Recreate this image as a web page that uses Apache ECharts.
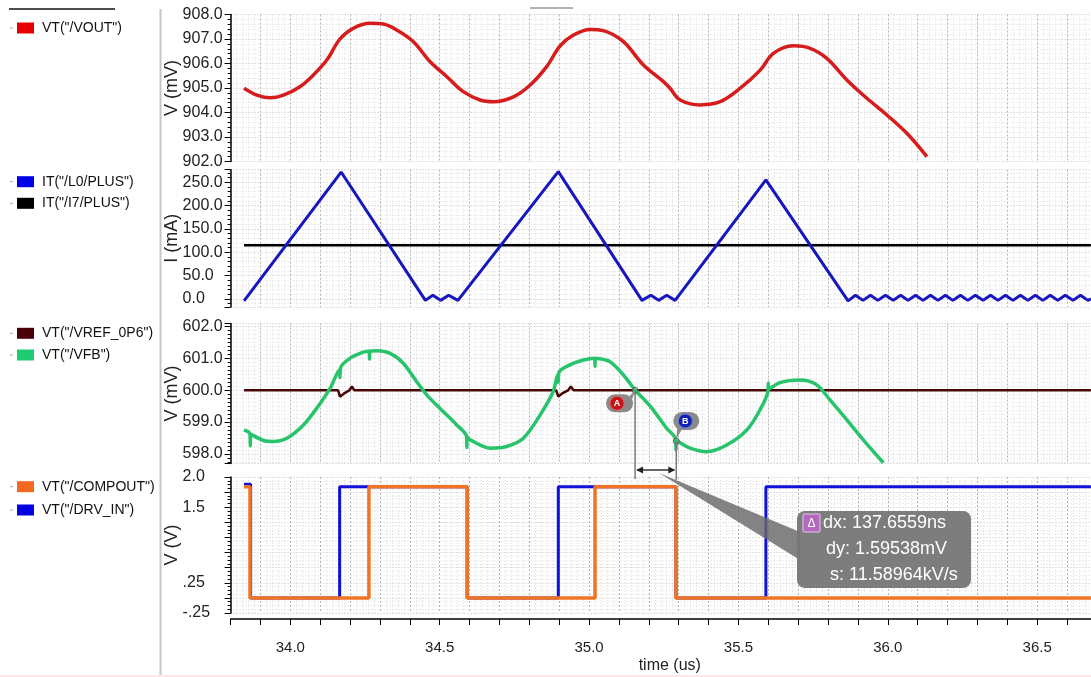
<!DOCTYPE html>
<html><head><meta charset="utf-8">
<script src="https://cdn.jsdelivr.net/npm/echarts@6/dist/echarts.min.js"></script>
<style>html,body{margin:0;padding:0;background:#fff}#c{width:1091px;height:677px}</style>
</head><body><div id="c"></div>
<script>
// ---------------- data (time in us) ----------------
const vout = [[33.845,904.99],[33.888,904.71],[33.932,904.60],[33.977,904.71],[34.032,905.05],[34.077,905.53],[34.122,906.14],[34.166,907.00],[34.211,907.44],[34.267,907.64],[34.311,907.61],[34.356,907.37],[34.412,906.89],[34.468,906.07],[34.524,905.46],[34.579,904.85],[34.635,904.51],[34.680,904.44],[34.747,904.64],[34.803,905.12],[34.858,905.87],[34.903,906.72],[34.948,907.16],[35.003,907.39],[35.048,907.34],[35.115,906.89],[35.182,905.94],[35.249,905.26],[35.271,904.99],[35.305,904.51],[35.372,904.31],[35.439,904.44],[35.506,904.99],[35.573,905.73],[35.617,906.41],[35.684,906.72],[35.740,906.62],[35.796,906.21],[35.863,905.33],[35.930,904.58],[35.997,903.90],[36.064,903.15],[36.131,902.20]];
const iL0 = [[33.845,-4],[34.170,272],[34.452,-3],[34.477,8],[34.503,-3],[34.530,8],[34.561,-3],[34.897,273],[35.177,-3],[35.207,8],[35.233,-3],[35.260,8],[35.288,-3],[35.592,255],[35.867,-4],[35.892,8],[35.917,-3],[35.942,8],[35.967,-3],[35.992,8],[36.018,-3],[36.043,8],[36.068,-3],[36.093,8],[36.118,-3],[36.143,8],[36.168,-3],[36.193,8],[36.218,-3],[36.243,8],[36.268,-3],[36.293,8],[36.319,-3],[36.344,8],[36.369,-3],[36.394,8],[36.419,-3],[36.444,8],[36.469,-3],[36.494,8],[36.519,-3],[36.544,8],[36.569,-3],[36.594,8],[36.620,-3],[36.645,8],[36.670,-3],[36.680,0]];
const iI7 = [[33.845,115],[36.680,115]];
const vref = [[33.845,600.0],[34.160,600.0],[34.166,599.80],[34.183,599.92],[34.198,600.0],[34.206,600.12],[34.214,600.0],[34.890,600.0],[34.897,599.80],[34.913,599.92],[34.930,600.0],[34.939,600.12],[34.948,600.0],[36.680,600.0]];
const vfb = [[33.845,598.75],[33.865,598.63],[33.866,598.25],[33.867,598.62],[33.910,598.42],[33.943,598.39],[33.988,598.49],[34.044,598.91],[34.088,599.43],[34.133,600.06],[34.164,600.64],[34.166,600.40],[34.168,600.70],[34.200,601.01],[34.244,601.20],[34.264,601.23],[34.265,600.98],[34.266,601.23],[34.289,601.24],[34.334,601.16],[34.378,600.85],[34.423,600.27],[34.457,599.85],[34.501,599.43],[34.557,598.91],[34.590,598.55],[34.591,598.20],[34.592,598.52],[34.602,598.44],[34.669,598.18],[34.724,598.23],[34.780,598.49],[34.836,599.22],[34.880,599.96],[34.895,600.48],[34.897,600.25],[34.899,600.56],[34.936,600.80],[34.981,600.95],[35.019,601.01],[35.020,600.75],[35.021,601.01],[35.070,600.90],[35.115,600.48],[35.155,600.00],[35.204,599.51],[35.260,598.80],[35.290,598.46],[35.291,598.12],[35.292,598.42],[35.338,598.18],[35.394,598.07],[35.461,598.28],[35.528,598.75],[35.572,599.38],[35.599,599.98],[35.600,600.22],[35.601,600.03],[35.639,600.24],[35.706,600.32],[35.762,600.17],[35.807,599.69],[35.863,599.07],[35.918,598.44],[35.985,597.72]];
const compout = [[33.845,1.84],[33.865,0],[34.263,1.84],[34.592,0],[35.020,1.84],[35.291,0],[36.680,0]];
const drvIn = [[33.845,1.88],[33.867,0],[34.165,1.84],[34.592,0],[34.897,1.84],[35.291,0],[35.592,1.84],[36.680,1.84]];
// tick labels
const xLabelValues = [34.0,34.5,35.0,35.5,36.0,36.5];
const voutLabels = [902,903,904,905,906,907,908];
const iLabels = [0,50,100,150,200,250];
const vfbLabels = [598,599,600,601,602];
const digLabels = [-0.25,0.25,1.5,2.0];
const digLabelText = {'-0.25':'-.25','0.25':'.25','1.5':'1.5','2':'2.0'};
// cursors
const cursorA = [35.154, 600.0];
const cursorB = [35.292, 598.405];
const deltaText = ['dx: 137.6559ns','dy: 1.59538mV','s: 11.58964kV/s'];
const names = ['VT("/VOUT")','IT("/L0/PLUS")','IT("/I7/PLUS")','VT("/VREF_0P6")','VT("/VFB")','VT("/COMPOUT")','VT("/DRV_IN")'];

// ---------------- layout / style ----------------
const SANS = "'Liberation Sans',Arial,sans-serif";
const L = 230.6, W = 860.3;
const grids = [
  {left:L, width:W, top:14.5, height:147},
  {left:L, width:W, top:169.7, height:137.2},
  {left:L, width:W, top:323.5, height:139.9},
  {left:L, width:W, top:477, height:136}
];
const majorH = {show:true, lineStyle:{color:'#c4c4c4', width:1, type:[1,2]}};
const minorH = {show:true, lineStyle:{color:'#dedede', width:1, type:[1,2]}};

const xAxes = grids.map((g,i)=>({
  type:'value', gridIndex:i, min:33.8, max:36.68, interval:0.1,
  offset: i===3 ? 6 : 0,
  axisLine:{show:i===3, onZero:false, lineStyle:{color:'#000', width:1.5}},
  axisTick:{show:i===3, length:6, lineStyle:{color:'#000', width:1}},
  minorTick:{show:false, splitNumber:5},
  axisLabel:{show:i===3, customValues:xLabelValues, formatter:v=>v.toFixed(1), margin:21,
    fontFamily:SANS, fontSize:15, color:'#222'},
  splitLine:{show:true, lineStyle:{color:'#b4b4b4', width:1, type:[2,2]}},
  minorSplitLine:{show:true, lineStyle:{color:'#dcdcdc', width:1, type:[1,2]}},
  name: i===3 ? 'time (us)' : '', nameLocation:'middle', nameGap:39, nameMoveOverlap:false,
  nameTextStyle:{fontFamily:SANS, fontSize:16, color:'#222', padding:[0,0,0,18]}
}));

function yAx(i, o){
  return Object.assign({
    type:'value', gridIndex:i,
    axisLine:{show:true, lineStyle:{color:'#000', width:1.5}},
    axisTick:{show:true, length:6, lineStyle:{color:'#000', width:1}},
    minorTick:{show:true, length:3, splitNumber:5, lineStyle:{color:'#000', width:1}},
    splitLine:majorH, minorSplitLine:minorH,
    nameLocation:'middle', nameGap:50, nameMoveOverlap:false,
    nameTextStyle:{fontFamily:SANS, fontSize:18, color:'#222'}
  }, o);
}
const lab = (vals, fmt) => ({customValues:vals, formatter:fmt, align:'left', margin:48, fontFamily:SANS, fontSize:16, color:'#222'});
const yAxes = [
  yAx(0,{min:902, max:908, interval:1, name:'V (mV)', axisLabel:lab(voutLabels, v=>v.toFixed(1))}),
  yAx(1,{min:-17, max:277, splitNumber:6, name:'I (mA)', axisLabel:lab(iLabels, v=>v.toFixed(1))}),
  yAx(2,{min:597.7, max:602.1, splitNumber:4, name:'V (mV)', minorTick:{show:true,length:3,splitNumber:8,lineStyle:{color:'#000',width:1}}, axisLabel:lab(vfbLabels, v=>v.toFixed(1))}),
  yAx(3,{min:-0.25, max:2.0, interval:0.25, name:'V (V)', minorTick:{show:true,length:3,splitNumber:4,lineStyle:{color:'#000',width:1}}, axisLabel:lab(digLabels, v=>digLabelText[String(+v.toFixed(2))] ?? String(v))})
];

function ser(name, data, gi, color, width, extra){
  return Object.assign({name, type:'line', data, xAxisIndex:gi, yAxisIndex:gi, showSymbol:false, symbol:'none',
    lineStyle:{color, width}, itemStyle:{color}, emphasis:{disabled:true}}, extra||{});
}
const series = [
  ser(names[0], vout, 0, '#d61c1c', 3.5, {smooth:0.35}),
  ser(names[2], iI7, 1, '#000000', 2.5),
  ser(names[1], iL0, 1, '#1717bd', 3),
  ser(names[3], vref, 2, '#4a0404', 2.5),
  ser(names[4], vfb, 2, '#28c46c', 3.5, {smooth:0.3}),
  ser(names[6], drvIn, 3, '#1010d8', 3, {step:'end'}),
  ser(names[5], compout, 3, '#f07424', 3.5, {step:'end'})
];

function mkLegend(top, idx, colors, gap){
  return {top, left:17, padding:0, orient:'vertical', icon:'rect', itemWidth:17, itemHeight:11, itemGap:gap,
    selectedMode:false,
    itemStyle:{borderWidth:0},
    textStyle:{fontFamily:SANS, fontSize:14, color:'#111', padding:[0,0,0,3], lineHeight:14},
    data: idx.map((k,j)=>({name:names[k], itemStyle:{color:colors[j], borderWidth:0}}))};
}
const legends = [
  mkLegend(21, [0], ['#e60000'], 8),
  mkLegend(174.7, [1,2], ['#0000e6','#000000'], 7.6),
  mkLegend(326.3, [3,4], ['#4a0008','#1ecb6e'], 7.7),
  mkLegend(479.7, [5,6], ['#f26a22','#0000e0'], 9.3)
];

const chart = echarts.init(document.getElementById('c'), null, {renderer:'canvas'});
chart.setOption({animation:false, backgroundColor:'#fff', grid:grids, xAxis:xAxes, yAxis:yAxes, series, legend:legends});

// ---------------- annotations ----------------
const pa = chart.convertToPixel({xAxisIndex:2, yAxisIndex:2}, cursorA);
const pb = chart.convertToPixel({xAxisIndex:2, yAxisIndex:2}, cursorB);
const ax = pa[0], ay = pa[1], bx = pb[0], by = pb[1];
const yArrow = 470, yEnd = 479;
const Z = 50;
const g = [];
// frame decorations
g.push({type:'line', z:Z, shape:{x1:160.5,y1:9,x2:160.5,y2:677}, style:{stroke:'#c6c6c6', lineWidth:2}});
g.push({type:'line', z:Z, shape:{x1:9,y1:9,x2:115,y2:9}, style:{stroke:'#111', lineWidth:1.5}});
g.push({type:'line', z:Z, shape:{x1:530,y1:8,x2:573,y2:8}, style:{stroke:'#9a9a9a', lineWidth:1.5}});
g.push({type:'rect', z:Z, shape:{x:0,y:675,width:1091,height:2}, style:{fill:'#fbe9ea'}});
[28,181.7,203.3,333.3,355,486.7,510].forEach(y=>{
  g.push({type:'line', z:Z, shape:{x1:10,y1:y,x2:13,y2:y}, style:{stroke:'#aaa', lineWidth:1}});
});
// cursor lines
g.push({type:'line', z:Z, shape:{x1:ax,y1:ay,x2:ax,y2:yEnd}, style:{stroke:'#7a7a7a', lineWidth:1.5}});
g.push({type:'line', z:Z, shape:{x1:bx,y1:by,x2:bx,y2:yEnd+1}, style:{stroke:'#7a7a7a', lineWidth:1.5}});
g.push({type:'line', z:Z, shape:{x1:ax+2,y1:yArrow,x2:bx-2,y2:yArrow}, style:{stroke:'#333', lineWidth:1.5}});
g.push({type:'polygon', z:Z, shape:{points:[[ax+1,yArrow],[ax+8,yArrow-3.5],[ax+8,yArrow+3.5]]}, style:{fill:'#222'}});
g.push({type:'polygon', z:Z, shape:{points:[[bx-1,yArrow],[bx-8,yArrow-3.5],[bx-8,yArrow+3.5]]}, style:{fill:'#222'}});
// callout tail + box
g.push({type:'polygon', z:Z+1, shape:{points:[[ax+24,yArrow+3],[800,532],[800,560]]}, style:{fill:'rgba(105,105,105,0.82)'}});
g.push({type:'rect', z:Z+2, shape:{x:797,y:511,width:174,height:77,r:8}, style:{fill:'rgba(118,118,118,0.95)'}});
g.push({type:'rect', z:Z+3, shape:{x:803,y:514,width:17,height:18,r:1}, style:{fill:'#b468bc', stroke:'#e9c6ee', lineWidth:1}});
g.push({type:'text', z:Z+4, x:811.5, y:523.5, style:{text:'Δ', fill:'#fff', fontSize:12, fontFamily:SANS, align:'center', verticalAlign:'middle'}});
const tx = [823, 826, 830], ty = [523, 549, 575];
deltaText.forEach((t,i)=>{
  g.push({type:'text', z:Z+4, x:tx[i], y:ty[i], style:{text:t, fill:'#fff', fontSize:18, fontFamily:SANS, verticalAlign:'middle'}});
});
// marker A
g.push({type:'polygon', z:Z+1, shape:{points:[[ax-6,ay+6],[ax,ay+1],[ax-3,ay+9]]}, style:{fill:'#8a8a8a'}});
g.push({type:'rect', z:Z+1, shape:{x:ax-29,y:ay+4,width:27,height:18,r:9}, style:{fill:'#8a8a8a'}});
g.push({type:'circle', z:Z+2, shape:{cx:ax-18,cy:ay+13,r:7}, style:{fill:'#c41414', stroke:'#e06060', lineWidth:1}});
g.push({type:'text', z:Z+3, x:ax-18, y:ay+13.5, style:{text:'A', fill:'#fff', fontSize:9, fontWeight:'bold', fontFamily:SANS, align:'center', verticalAlign:'middle'}});
g.push({type:'circle', z:Z+2, shape:{cx:ax,cy:ay,r:3}, style:{fill:'none', stroke:'#666', lineWidth:1}});
// marker B
g.push({type:'polygon', z:Z+1, shape:{points:[[bx+1,by-14],[bx,by-2],[bx+7,by-14]]}, style:{fill:'#8a8a8a'}});
g.push({type:'rect', z:Z+1, shape:{x:bx-3,y:by-29,width:26,height:18,r:9}, style:{fill:'#8a8a8a'}});
g.push({type:'circle', z:Z+2, shape:{cx:bx+9,cy:by-20,r:7}, style:{fill:'#1420b4', stroke:'#6a74d8', lineWidth:1}});
g.push({type:'text', z:Z+3, x:bx+9, y:by-19.5, style:{text:'B', fill:'#fff', fontSize:9, fontWeight:'bold', fontFamily:SANS, align:'center', verticalAlign:'middle'}});
g.push({type:'circle', z:Z+2, shape:{cx:bx,cy:by,r:3}, style:{fill:'none', stroke:'#666', lineWidth:1}});
chart.setOption({graphic:{elements:g}});
</script></body></html>
